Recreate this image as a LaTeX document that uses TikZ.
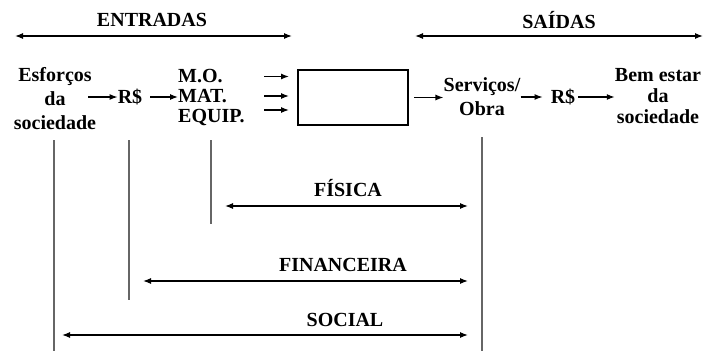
\documentclass[tikz,border=0pt]{standalone}
\usepackage{fontspec}
\setmainfont{Liberation Serif}
\usetikzlibrary{arrows.meta}
\begin{document}
\begin{tikzpicture}[x=1pt,y={(0pt,-1pt)},
  lbl/.style={font=\fontsize{20}{24}\selectfont\bfseries, inner sep=0pt, align=center},
  arr/.style={-{Latex[length=8pt,width=6pt]}, line width=1.2pt},
  darr/.style={{Latex[length=8pt,width=6pt]}-{Latex[length=8pt,width=6pt]}, line width=1.2pt},
  vline/.style={draw=black!60, line width=1.3pt},
  procbox/.style={draw, line width=2pt, minimum width=110pt, minimum height=55pt, inner sep=0pt}]
\useasboundingbox (0,0) rectangle (705,351);

% headers
\node[lbl] (entr) at (152,20) {ENTRADAS};
\node[lbl] (said) at (559,20) {SAÍDAS};
\coordinate (entL) at (15,36);
\coordinate (entR) at (292,36);
\coordinate (saiL) at (415,36);
\coordinate (saiR) at (703,36);
\draw[darr] (entL) -- (entR);
\draw[darr] (saiL) -- (saiR);

% flow
\node[lbl] (esf) at (55,99) {Esforços\\da\\sociedade};
\node[lbl] (rs1) at (130,97) {R\$};
\node[lbl, align=left, anchor=west, font=\fontsize{20}{20}\selectfont\bfseries] (inp) at (178,97) {M.O.\\MAT.\\EQUIP.};
\node[procbox] (box) at (353,97.5) {};
\node[lbl] (serv) at (482,97) {Serviços/\\Obra};
\node[lbl] (rs2) at (563,97) {R\$};
\node[lbl, font=\fontsize{20}{21}\selectfont\bfseries] (bem) at (658,96) {Bem estar\\da\\sociedade};

\draw[arr] (esf.east |- rs1) ++(-8,0) -- (rs1.west);
\draw[arr] ([xshift=8pt]rs1.east) -- (inp.west);
\draw[arr] (box.west) ++(-33,-21) -- ++(25,0);
\draw[arr] (box.west) ++(-33,-1.5) -- ++(25,0);
\draw[arr] (box.west) ++(-33,12.5) -- ++(25,0);
\draw[arr] ([xshift=5pt]box.east) -- (serv.west |- box.east);
\draw[arr] (serv.east |- rs2) -- ([xshift=-8pt]rs2.west);
\draw[arr] ([xshift=3pt]rs2.east) -- (bem.west |- rs2);

% vertical lines
\coordinate (v1a) at (54,140);  \coordinate (v1b) at (54,351);
\coordinate (v2a) at (129,140); \coordinate (v2b) at (129,300);
\coordinate (v3a) at (211,140); \coordinate (v3b) at (211,224);
\coordinate (v4a) at (482,137); \coordinate (v4b) at (482,351);
\draw[vline] (v1a) -- (v1b);
\draw[vline] (v2a) -- (v2b);
\draw[vline] (v3a) -- (v3b);
\draw[vline] (v4a) -- (v4b);

% dimensions
\node[lbl] (fis) at (348,188) {FÍSICA};
\node[lbl] (fin) at (343,265) {FINANCEIRA};
\node[lbl] (soc) at (345,320) {SOCIAL};
\coordinate (fisL) at (225,206); \coordinate (fisR) at (468,206);
\coordinate (finL) at (143,281); \coordinate (finR) at (468,281);
\coordinate (socL) at (62,335);  \coordinate (socR) at (468,335);
\draw[darr] (fisL) -- (fisR);
\draw[darr] (finL) -- (finR);
\draw[darr] (socL) -- (socR);
\end{tikzpicture}
\end{document}
